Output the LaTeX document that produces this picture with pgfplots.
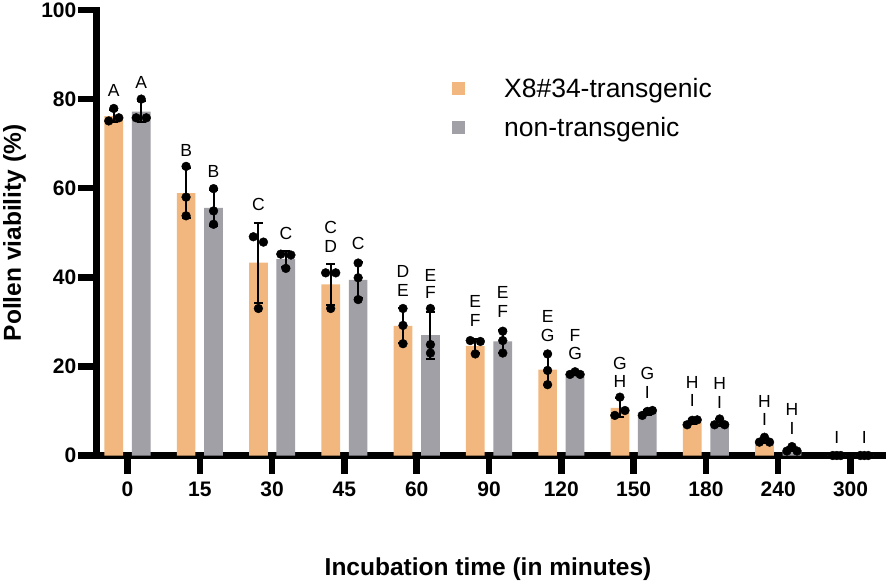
\documentclass[border=0pt]{standalone}
\usepackage{fontspec}
\setmainfont{Liberation Sans}
\usepackage{pgfplots}
\usepackage{pgfplotstable}
\pgfplotsset{compat=1.18}
\definecolor{barorange}{RGB}{241,183,126}
\definecolor{bargray}{RGB}{160,160,166}

\pgfplotstableread{
x xs y err
0 -0.19 76.2 1.4
1 0.81 58.9 5.6
2 1.81 43.3 9.0
3 2.81 38.4 4.6
4 3.81 29.1 3.9
5 4.81 24.6 1.6
6 5.81 19.3 3.4
7 6.81 10.7 2.1
8 7.81 7.6 0.6
9 8.81 3.3 0.6
10 9.81 0.0 0.0
}\transg
\pgfplotstableread{
x xs y err
0 0.19 77.2 2.4
1 1.19 55.6 4.0
2 2.19 44.1 1.8
3 3.19 39.4 4.1
4 4.19 27.0 5.3
5 5.19 25.6 2.5
6 6.19 18.4 0.4
7 7.19 9.7 0.6
8 8.19 7.4 0.7
9 9.19 1.4 0.5
10 10.19 0.0 0.0
}\nontransg

\tikzset{lett/.style={font=\fontsize{17.5}{20}\selectfont, inner sep=0pt}}
\pgfplotsset{errstyle/.style={draw=none, mark=none, forget plot,
  error bars/.cd, y dir=both, y explicit,
  error bar style={draw=black, line width=2pt},
  error mark options={rotate=90, draw=black, line width=2pt, mark size=4.5pt}}}

\begin{document}
\begin{tikzpicture}
\useasboundingbox (0,0) rectangle (886pt,582pt);
\begin{axis}[
  at={(96pt,126.5pt)}, anchor=south west,
  scale only axis, width=788pt, height=445.5pt,
  xmin=-0.436, xmax=10.463, ymin=0, ymax=100,
  axis x line*=bottom, axis y line*=left,
  axis line style={line width=7pt, line cap=rect, black},
  xtick={0,1,2,3,4,5,6,7,8,9,10},
  xticklabels={0,15,30,45,60,90,120,150,180,240,300},
  ytick={0,20,40,60,80,100},
  tick align=outside, major tick length=18pt,
  tick style={line width=6.5pt, black},
  /pgf/number format/assume math mode=true,
  ticklabel style={font=\fontsize{21}{25}\selectfont\bfseries},
  yticklabel style={inner sep=1.5pt},
  xticklabel style={inner sep=8pt},
  xlabel={Incubation time (in minutes)},
  ylabel={Pollen viability (\%)},
  label style={font=\fontsize{24.5}{28}\selectfont\bfseries},
  xlabel style={at={(rel axis cs:0.4975,-0.270)}, anchor=base},
  ylabel style={at={(rel axis cs:-0.0954,0.4994)}, anchor=base},
  clip=false,
  legend cell align=left,
  legend style={draw=none, fill=none, at={(axis cs:4.48,84.7)}, anchor=north west,
    font=\fontsize{26.5}{30}\selectfont, row sep=18pt, inner sep=0pt,
    nodes={inner sep=0pt},
    /tikz/every odd column/.append style={column sep=39.5pt}},
]
\addplot[ybar, bar width=18.7pt, bar shift=-13.7pt, fill=barorange, draw=none,
  legend image code/.code={\fill[barorange] (0pt,-6.5pt) rectangle (13pt,6.5pt);}]
  table[x=x, y=y]{\transg};
\addlegendentry{\rule[-6pt]{0pt}{25pt}X8\#34-transgenic}
\addplot[ybar, bar width=18.7pt, bar shift=13.7pt, fill=bargray, draw=none,
  legend image code/.code={\fill[bargray] (0pt,-6.5pt) rectangle (13pt,6.5pt);}]
  table[x=x, y=y]{\nontransg};
\addlegendentry{\rule[-6pt]{0pt}{25pt}non-transgenic}

\addplot[errstyle] table[x=xs, y=y, y error=err]{\transg};
\addplot[errstyle] table[x=xs, y=y, y error=err]{\nontransg};

\addplot[only marks, mark=*, mark size=4.4pt, black, forget plot] coordinates {
(-0.26,75.1) (-0.19,77.9) (-0.12,75.8)
(0.81,64.9) (0.81,58.0) (0.81,53.8)
(1.74,49.1) (1.88,47.9) (1.81,33.0)
(2.74,41.0) (2.88,41.0) (2.81,33.0)
(3.81,33.0) (3.81,29.2) (3.81,25.1)
(4.74,25.8) (4.88,25.6) (4.81,22.8)
(5.81,22.8) (5.81,19.1) (5.81,15.9)
(6.81,13.1) (6.74,9.0) (6.88,10.1)
(7.74,6.9) (7.81,7.9) (7.88,8.0)
(8.81,4.1) (8.74,3.0) (8.88,3.0)
(9.755,0) (9.81,0) (9.865,0)
};
\addplot[only marks, mark=*, mark size=4.4pt, black, forget plot] coordinates {
(0.19,80.0) (0.12,75.8) (0.26,75.8)
(1.19,59.9) (1.19,54.9) (1.19,51.9)
(2.12,45.2) (2.26,45.0) (2.19,42.0)
(3.19,43.2) (3.19,39.9) (3.19,35.0)
(4.19,33.0) (4.19,24.9) (4.19,23.0)
(5.19,27.9) (5.19,25.8) (5.19,23.0)
(6.12,18.2) (6.19,18.8) (6.26,18.2)
(7.12,9.0) (7.19,9.9) (7.26,10.1)
(8.12,6.9) (8.19,8.2) (8.26,6.9)
(9.19,2.0) (9.12,1.0) (9.26,1.0)
(10.135,0) (10.19,0) (10.245,0)
};

\node[lett] at (axis cs:-0.19,82.0) {A};
\node[lett] at (axis cs:0.19,83.7) {A};
\node[lett] at (axis cs:0.81,68.5) {B};
\node[lett] at (axis cs:1.19,63.8) {B};
\node[lett] at (axis cs:1.81,56.3) {C};
\node[lett] at (axis cs:2.19,49.8) {C};
\node[lett] at (axis cs:2.81,51.2) {C};
\node[lett] at (axis cs:2.81,47.0) {D};
\node[lett] at (axis cs:3.19,47.6) {C};
\node[lett] at (axis cs:3.81,41.2) {D};
\node[lett] at (axis cs:3.81,37.1) {E};
\node[lett] at (axis cs:4.19,40.4) {E};
\node[lett] at (axis cs:4.19,36.6) {F};
\node[lett] at (axis cs:4.81,34.5) {E};
\node[lett] at (axis cs:4.81,30.3) {F};
\node[lett] at (axis cs:5.19,36.5) {E};
\node[lett] at (axis cs:5.19,32.4) {F};
\node[lett] at (axis cs:5.81,31.1) {E};
\node[lett] at (axis cs:5.81,27.0) {G};
\node[lett] at (axis cs:6.19,27.0) {F};
\node[lett] at (axis cs:6.19,22.9) {G};
\node[lett] at (axis cs:6.81,20.7) {G};
\node[lett] at (axis cs:6.81,16.7) {H};
\node[lett] at (axis cs:7.19,18.5) {G};
\node[lett] at (axis cs:7.19,14.2) {I};
\node[lett] at (axis cs:7.81,16.5) {H};
\node[lett] at (axis cs:7.81,12.4) {I};
\node[lett] at (axis cs:8.19,16.2) {H};
\node[lett] at (axis cs:8.19,12.0) {I};
\node[lett] at (axis cs:8.81,12.1) {H};
\node[lett] at (axis cs:8.81,8.0) {I};
\node[lett] at (axis cs:9.19,10.3) {H};
\node[lett] at (axis cs:9.19,6.0) {I};
\node[lett] at (axis cs:9.81,4.1) {I};
\node[lett] at (axis cs:10.19,4.1) {I};
\end{axis}
\end{tikzpicture}
\end{document}
